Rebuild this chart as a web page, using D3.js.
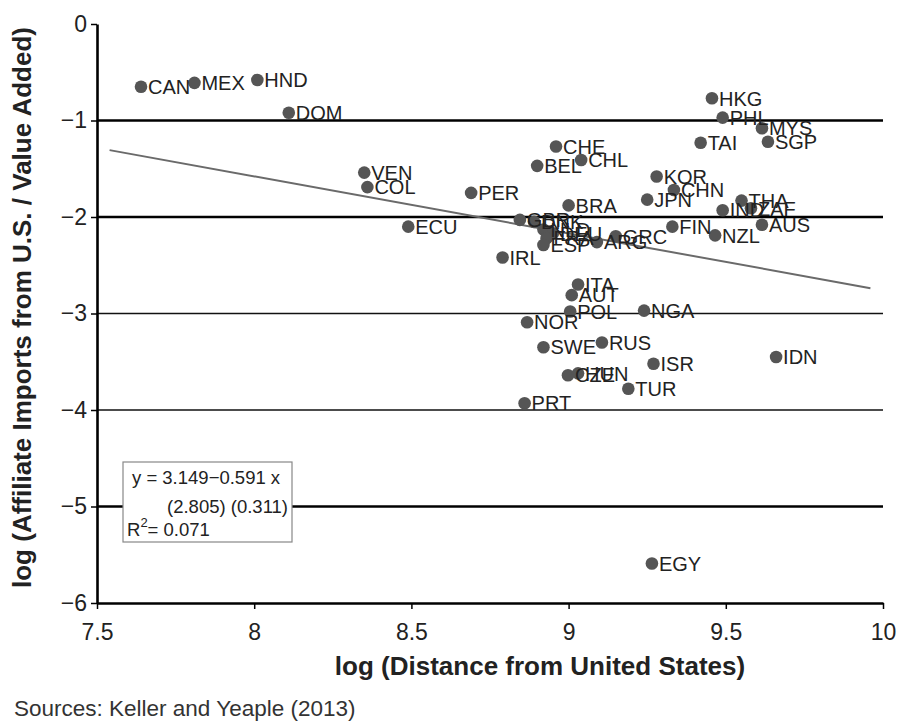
<!DOCTYPE html>
<html>
<head>
<meta charset="utf-8">
<script src="https://cdn.jsdelivr.net/npm/d3@7"></script>
<style>
  body { margin: 0; background: #fff; }
  svg { font-family: "Liberation Sans", Arial, sans-serif; }
</style>
</head>
<body>
<div id="chart"></div>
<script>
// country codes and their (log distance, log affiliate imports) values
const codes = ["CAN", "MEX", "HND", "DOM", "VEN", "COL", "ECU", "PER", "IRL",
  "BEL", "CHE", "CHL", "BRA", "GBR", "DNK", "NLD", "DEU", "FRA", "ESP", "ARG", "GRC",
  "KOR", "CHN", "JPN", "FIN", "TAI", "HKG", "PHL", "MYS", "SGP", "IND", "THA", "ZAF",
  "AUS", "NZL", "ITA", "AUT", "POL", "NGA", "NOR", "SWE", "RUS", "ISR", "CZE", "HUN",
  "TUR", "PRT", "IDN", "EGY"];
const xs = [7.64, 7.81, 8.01, 8.11, 8.35, 8.36, 8.49, 8.69, 8.79,
  8.90, 8.96, 9.04, 9.00, 8.845, 8.89, 8.92, 8.95, 8.93, 8.92, 9.09, 9.15,
  9.28, 9.335, 9.25, 9.33, 9.42, 9.456, 9.49, 9.615, 9.634, 9.49, 9.55, 9.58,
  9.615, 9.466, 9.03, 9.01, 9.005, 9.24, 8.868, 8.92, 9.106, 9.27, 8.998, 9.03,
  9.19, 8.86, 9.66, 9.265];
const ys = [-0.65, -0.61, -0.58, -0.92, -1.54, -1.69, -2.10, -1.75, -2.42,
  -1.47, -1.27, -1.41, -1.88, -2.03, -2.05, -2.13, -2.17, -2.22, -2.29, -2.26, -2.20,
  -1.58, -1.72, -1.82, -2.10, -1.23, -0.77, -0.97, -1.08, -1.22, -1.93, -1.83, -1.91,
  -2.08, -2.19, -2.70, -2.81, -2.98, -2.97, -3.09, -3.35, -3.30, -3.52, -3.64, -3.62,
  -3.78, -3.93, -3.45, -5.59];

const xTicks = [7.5, 8, 8.5, 9, 9.5, 10];
const yTicks = [0, -1, -2, -3, -4, -5, -6];
const heavyLines = [-1, -2, -5];
const lightLines = [-3, -4];

// fitted line y = a + b x
const fitA = 3.149, fitB = -0.591;
const fitRange = [7.54, 9.96];

const W = 903, H = 722;
const margin = { top: 24, right: 20, bottom: 119, left: 97 };

const svg = d3.select("#chart").append("svg")
  .attr("width", W).attr("height", H);

const x = d3.scaleLinear().domain([7.5, 10]).range([margin.left, W - margin.right]);
const y = d3.scaleLinear().domain([-6, 0]).range([H - margin.bottom, margin.top]);

// horizontal reference lines
svg.append("g").selectAll("line").data(heavyLines).join("line")
  .attr("x1", x(7.5)).attr("x2", x(10))
  .attr("y1", d => y(d)).attr("y2", d => y(d))
  .attr("stroke", "#000").attr("stroke-width", 2.6);
svg.append("g").selectAll("line").data(lightLines).join("line")
  .attr("x1", x(7.5)).attr("x2", x(10))
  .attr("y1", d => y(d)).attr("y2", d => y(d))
  .attr("stroke", "#111").attr("stroke-width", 1.6);

// trend line
svg.append("line")
  .attr("x1", x(fitRange[0])).attr("y1", y(fitA + fitB * fitRange[0]))
  .attr("x2", x(fitRange[1])).attr("y2", y(fitA + fitB * fitRange[1]))
  .attr("stroke", "#6a6a6a").attr("stroke-width", 2);

// axes
const xAxis = svg.append("g")
  .attr("transform", `translate(0,${y(-6)})`)
  .call(d3.axisBottom(x).tickValues(xTicks).tickSize(6).tickSizeOuter(0).tickFormat(d => String(d)));
const yAxis = svg.append("g")
  .attr("transform", `translate(${x(7.5)},0)`)
  .call(d3.axisLeft(y).tickValues(yTicks).tickSize(6).tickSizeOuter(0)
    .tickFormat(d => d === 0 ? "0" : "\u2212" + Math.abs(d)));

for (const ax of [xAxis, yAxis]) {
  ax.select(".domain").attr("stroke", "#000").attr("stroke-width", 2.6);
  ax.selectAll(".tick line").attr("stroke", "#000").attr("stroke-width", 1.5);
  ax.selectAll(".tick text").attr("fill", "#222").style("font-size", "23px")
    .style("font-family", "'Liberation Sans', Arial, sans-serif");
}
xAxis.selectAll(".tick text").attr("dy", "1.2em");
yAxis.selectAll(".tick text").attr("x", -10);

// points and labels
const pts = codes.map((c, i) => ({ code: c, x: xs[i], y: ys[i] }));
svg.append("g").selectAll("circle").data(pts).join("circle")
  .attr("cx", d => x(d.x)).attr("cy", d => y(d.y)).attr("r", 6.3)
  .attr("fill", "#555");
svg.append("g").selectAll("text").data(pts).join("text")
  .attr("x", d => x(d.x) + 7).attr("y", d => y(d.y))
  .attr("dy", "0.36em")
  .attr("fill", "#222").style("font-size", "20px")
  .text(d => d.code);

// regression box
const box = svg.append("g").attr("transform", "translate(123,462)");
box.append("rect").attr("width", 169).attr("height", 80)
  .attr("fill", "#fff").attr("stroke", "#888").attr("stroke-width", 1.2);
box.append("text").attr("x", 9).attr("y", 22).style("font-size", "18.5px").attr("fill", "#222")
  .text("y = 3.149\u22120.591 x");
box.append("text").attr("x", 165).attr("y", 51).attr("text-anchor", "end")
  .style("font-size", "18.5px").attr("fill", "#222")
  .text("(2.805) (0.311)");
const r2 = box.append("text").attr("x", 4).attr("y", 74).style("font-size", "18.5px").attr("fill", "#222");
r2.append("tspan").text("R");
r2.append("tspan").attr("dy", -9).style("font-size", "13px").text("2");
r2.append("tspan").attr("dy", 9).text("= 0.071");

// axis titles
svg.append("text")
  .attr("transform", `translate(31,${(y(0) + y(-6)) / 2 - 6}) rotate(-90)`)
  .attr("text-anchor", "middle").attr("fill", "#222")
  .style("font-size", "26px").style("font-weight", "bold")
  .text("log (Affiliate Imports from U.S. / Value Added)");
svg.append("text")
  .attr("x", 540).attr("y", 675)
  .attr("text-anchor", "middle").attr("fill", "#222")
  .style("font-size", "26px").style("font-weight", "bold")
  .text("log (Distance from United States)");

svg.append("text")
  .attr("x", 14).attr("y", 716).attr("fill", "#333")
  .style("font-size", "22.5px")
  .text("Sources: Keller and Yeaple (2013)");
</script>
</body>
</html>
